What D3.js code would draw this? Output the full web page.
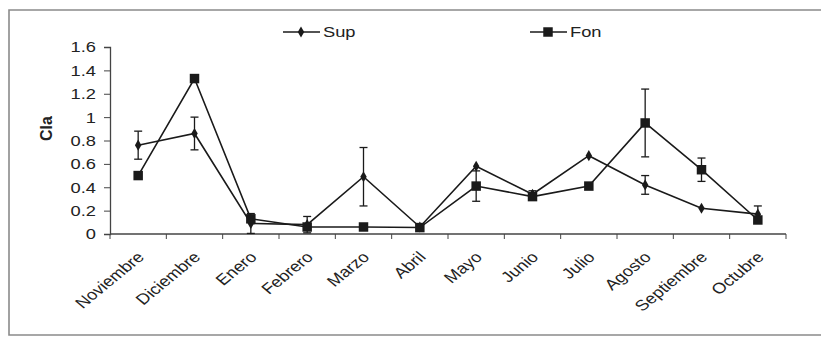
<!DOCTYPE html>
<html>
<head>
<meta charset="utf-8">
<script src="https://cdn.jsdelivr.net/npm/d3@7"></script>
<style>
  body { margin: 0; background: #fff; }
  svg text { font-family: "Liberation Sans", Arial, sans-serif; fill: #222; }
</style>
</head>
<body>
<svg id="chart" width="821" height="338"></svg>
<script>
// data
var months = ["Noviembre", "Diciembre", "Enero", "Febrero", "Marzo", "Abril",
              "Mayo", "Junio", "Julio", "Agosto", "Septiembre", "Octubre"];
var supValues = [0.76, 0.86, 0.09, 0.08, 0.49, 0.06, 0.58, 0.34, 0.67, 0.42, 0.22, 0.17];
var supErrors = [0.12, 0.14, 0.085, 0.07, 0.25, 0, 0, 0.03, 0, 0.08, 0, 0.07];
var fonValues = [0.50, 1.33, 0.13, 0.06, 0.06, 0.055, 0.41, 0.32, 0.41, 0.95, 0.55, 0.12];
var fonErrors = [0, 0, 0, 0, 0, 0, 0.13, 0, 0, 0.29, 0.10, 0];
var yTicks = [0, 0.2, 0.4, 0.6, 0.8, 1, 1.2, 1.4, 1.6];

var svg = d3.select("#chart"),
    margin = {top: 47, left: 110, right: 35, bottom: 104},
    width = 821 - margin.left - margin.right,
    height = 338 - margin.top - margin.bottom,
    g = svg.append("g").attr("transform", "translate(" + margin.left + "," + margin.top + ")");

var ink = "#1a1a1a";
var sx = 1.22; // the scan is stretched horizontally

// outer frame
svg.append("path")
    .attr("d", "M821,10 H9 V335 H821")
    .attr("fill", "none")
    .attr("stroke", "#8a8a8a")
    .attr("stroke-width", 1.6);

var x = d3.scaleBand().domain(months).range([0, width]);
var y = d3.scaleLinear().domain([0, 1.6]).range([height, 0]);

// y axis
var yAxis = g.append("g")
    .call(d3.axisLeft(y).tickValues(yTicks).tickSize(6).tickFormat(d3.format("")));
yAxis.select(".domain").attr("stroke", "#444").attr("stroke-width", 1.3);
yAxis.selectAll(".tick line").attr("stroke", "#444");
yAxis.selectAll(".tick text")
    .attr("x", 0).attr("dy", null)
    .attr("dominant-baseline", "central")
    .attr("font-size", 15)
    .attr("transform", function () { return "translate(-14,0) scale(" + sx + ",1)"; });

// x axis: ticks on category boundaries
var xAxis = g.append("g").attr("transform", "translate(0," + height + ")");
xAxis.append("line").attr("x1", 0).attr("x2", width)
    .attr("stroke", "#444").attr("stroke-width", 1.3);
xAxis.selectAll("line.tk")
    .data(d3.range(months.length + 1))
    .enter().append("line")
    .attr("class", "tk")
    .attr("x1", function (i) { return i * x.step(); })
    .attr("x2", function (i) { return i * x.step(); })
    .attr("y1", 0).attr("y2", 5)
    .attr("stroke", "#444");
xAxis.selectAll("text")
    .data(months)
    .enter().append("text")
    .attr("text-anchor", "end")
    .attr("font-size", 15)
    .attr("transform", function (d) {
        return "translate(" + (x(d) + x.bandwidth() / 2 + 7) + ",24) scale(" + sx + ",1) rotate(-45)";
    })
    .text(function (d) { return d; });

// y label
g.append("text")
    .attr("transform", "translate(-58," + (height / 2 - 12) + ") rotate(-90)")
    .attr("text-anchor", "middle")
    .attr("font-size", 16)
    .attr("font-weight", "bold")
    .text("Cla");

function cx(d, i) { return x(months[i]) + x.bandwidth() / 2; }

var series = [
    {name: "Sup", values: supValues, errors: supErrors, symbol: d3.symbolDiamond, size: 36},
    {name: "Fon", values: fonValues, errors: fonErrors, symbol: d3.symbolSquare, size: 90}
];

var line = d3.line().x(cx).y(function (d) { return y(d); });

series.forEach(function (s) {
    var sg = g.append("g");
    // error bars
    var eb = sg.selectAll("g.err")
        .data(s.values)
        .enter().filter(function (d, i) { return s.errors[i] > 0; })
        .append("g");
    eb.each(function (d) {
        var i = s.values.indexOf(d);
        var px = cx(d, i), e = s.errors[i];
        var el = d3.select(this);
        el.append("line").attr("x1", px).attr("x2", px)
            .attr("y1", y(d - e)).attr("y2", y(d + e));
        el.append("line").attr("x1", px - 4).attr("x2", px + 4)
            .attr("y1", y(d - e)).attr("y2", y(d - e));
        el.append("line").attr("x1", px - 4).attr("x2", px + 4)
            .attr("y1", y(d + e)).attr("y2", y(d + e));
    });
    eb.selectAll("line").attr("stroke", ink).attr("stroke-width", 1.3);

    sg.append("path")
        .datum(s.values)
        .attr("d", line)
        .attr("fill", "none")
        .attr("stroke", ink)
        .attr("stroke-width", 1.6);

    sg.selectAll("path.mk")
        .data(s.values)
        .enter().append("path")
        .attr("class", "mk")
        .attr("transform", function (d, i) { return "translate(" + cx(d, i) + "," + y(d) + ")"; })
        .attr("d", d3.symbol().type(s.symbol).size(s.size))
        .attr("fill", ink);
});

// legend
var legendPos = [{lx: 283}, {lx: 530}];
series.forEach(function (s, k) {
    var lg = svg.append("g").attr("transform", "translate(" + legendPos[k].lx + ",32)");
    lg.append("line").attr("x1", 0).attr("x2", 37)
        .attr("stroke", ink).attr("stroke-width", 1.6);
    lg.append("path")
        .attr("transform", "translate(18,0)")
        .attr("d", d3.symbol().type(s.symbol).size(s.size))
        .attr("fill", ink);
    lg.append("text")
        .attr("transform", "translate(40,0) scale(" + sx + ",1)")
        .attr("dominant-baseline", "central")
        .attr("font-size", 15)
        .text(s.name);
});
</script>
</body>
</html>
